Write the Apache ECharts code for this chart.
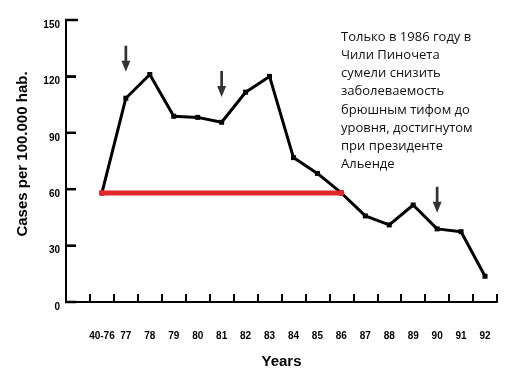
<!DOCTYPE html>
<html><head><meta charset="utf-8">
<script src="https://cdn.jsdelivr.net/npm/echarts@6/dist/echarts.min.js"></script>
<style>html,body{margin:0;padding:0;background:#fff}#c{width:512px;height:374px}</style>
</head><body><div id="c"></div>
<script>
// Leading blank category reproduces the empty gap before "40-76" on the original axis
const categories = ['', '40-76', '77', '78', '79', '80', '81', '82', '83', '84', '85', '86', '87', '88', '89', '90', '91', '92'];
const cases = [null, 58, 108.4, 121, 98.8, 98.2, 95.6, 111.6, 120, 76.8, 68.4, 58, 45.8, 41, 51.6, 38.9, 37.4, 13.7];
const allendeLevel = [null, 58, null, null, null, null, null, null, null, null, null, 58, null, null, null, null, null, null];
const arrowYears = ['77', '81', '90'];
const arrowTips = [122.5, 109, 47.5];
const yTicks = [0, 30, 60, 90, 120, 150];
const note = 'Только в 1986 году в\nЧили Пиночета\nсумели снизить\nзаболеваемость\nбрюшным тифом до\nуровня, достигнутом\nпри президенте\nАльенде';

const chart = echarts.init(document.getElementById('c'));
chart.setOption({
  backgroundColor: '#fff',
  animation: false,
  title: {
    text: note, left: 336, top: 23,
    textStyle: { fontFamily: 'Open Sans', fontSize: 13, fontWeight: 'normal', color: '#111', lineHeight: 18.2 }
  },
  grid: { left: 66, right: 15, top: 20, bottom: 69 },
  xAxis: {
    type: 'category', data: categories, boundaryGap: true,
    name: 'Years', nameLocation: 'middle', nameGap: 52,
    nameTextStyle: { fontFamily: 'Liberation Sans', fontWeight: 'bold', fontSize: 15, color: '#000' },
    axisLine: { show: true, lineStyle: { color: '#000', width: 2 } },
    axisTick: { show: true, inside: true, length: 8, interval: 0, alignWithLabel: false, lineStyle: { color: '#000', width: 2 } },
    axisLabel: { margin: 29, interval: 0, fontFamily: 'Liberation Sans', fontWeight: 'bold', fontSize: 10, color: '#000' },
    splitLine: { show: false }
  },
  yAxis: {
    type: 'value', min: 0, max: 150, interval: 30, position: 'left',
    name: 'Cases per 100.000 hab.', nameLocation: 'middle', nameGap: 36,
    nameTextStyle: { fontFamily: 'Liberation Sans', fontWeight: 'bold', fontSize: 15, color: '#000', padding: [0, 0, 0, 14] },
    axisLine: { show: true, lineStyle: { color: '#000', width: 2 } },
    axisTick: { show: true, inside: true, length: 10, lineStyle: { color: '#000', width: 2 } },
    axisLabel: {
      margin: 6, verticalAlign: 'top',
      fontFamily: 'Liberation Sans', fontWeight: 'bold', fontSize: 10, color: '#000',
      formatter: v => yTicks.indexOf(v) >= 0 ? String(v) : ''
    },
    splitLine: { show: false }
  },
  series: [
    {
      type: 'line', data: cases, connectNulls: false,
      symbol: 'rect', symbolSize: 5, showSymbol: true,
      lineStyle: { color: '#000', width: 3 }, itemStyle: { color: '#000' }, z: 2
    },
    {
      type: 'line', data: allendeLevel, connectNulls: true,
      symbol: 'circle', symbolSize: [6, 6], showSymbol: true,
      lineStyle: { color: '#e0282c', width: 5 }, itemStyle: { color: '#e0282c' }, z: 3
    },
    {
      type: 'scatter', data: arrowYears.map((y, i) => [y, arrowTips[i]]),
      symbol: 'path://M3.5,0 L6.5,0 L6.5,15 L10,15 L5,26 L0,15 L3.5,15 Z',
      symbolSize: [9, 26], symbolOffset: [0, '-50%'],
      itemStyle: { color: '#000' }, z: 4
    },
    {
      // inward y-axis ticks, positioned through the axis scale
      type: 'custom', clip: false, z: 10, zlevel: 1, silent: true,
      data: yTicks.map(v => [0, v]),
      renderItem: function (params, api) {
        const p = api.coord([0, api.value(1)]);
        const band = api.size([1, 0])[0];
        const x0 = p[0] - band / 2;
        const len = api.value(1) === 150 ? 12 : 10;
        return {
          type: 'line',
          shape: { x1: x0 - 1, y1: p[1], x2: x0 + len, y2: p[1] },
          style: { stroke: '#000', lineWidth: 2.5 }
        };
      }
    }
  ]
});
</script></body></html>
